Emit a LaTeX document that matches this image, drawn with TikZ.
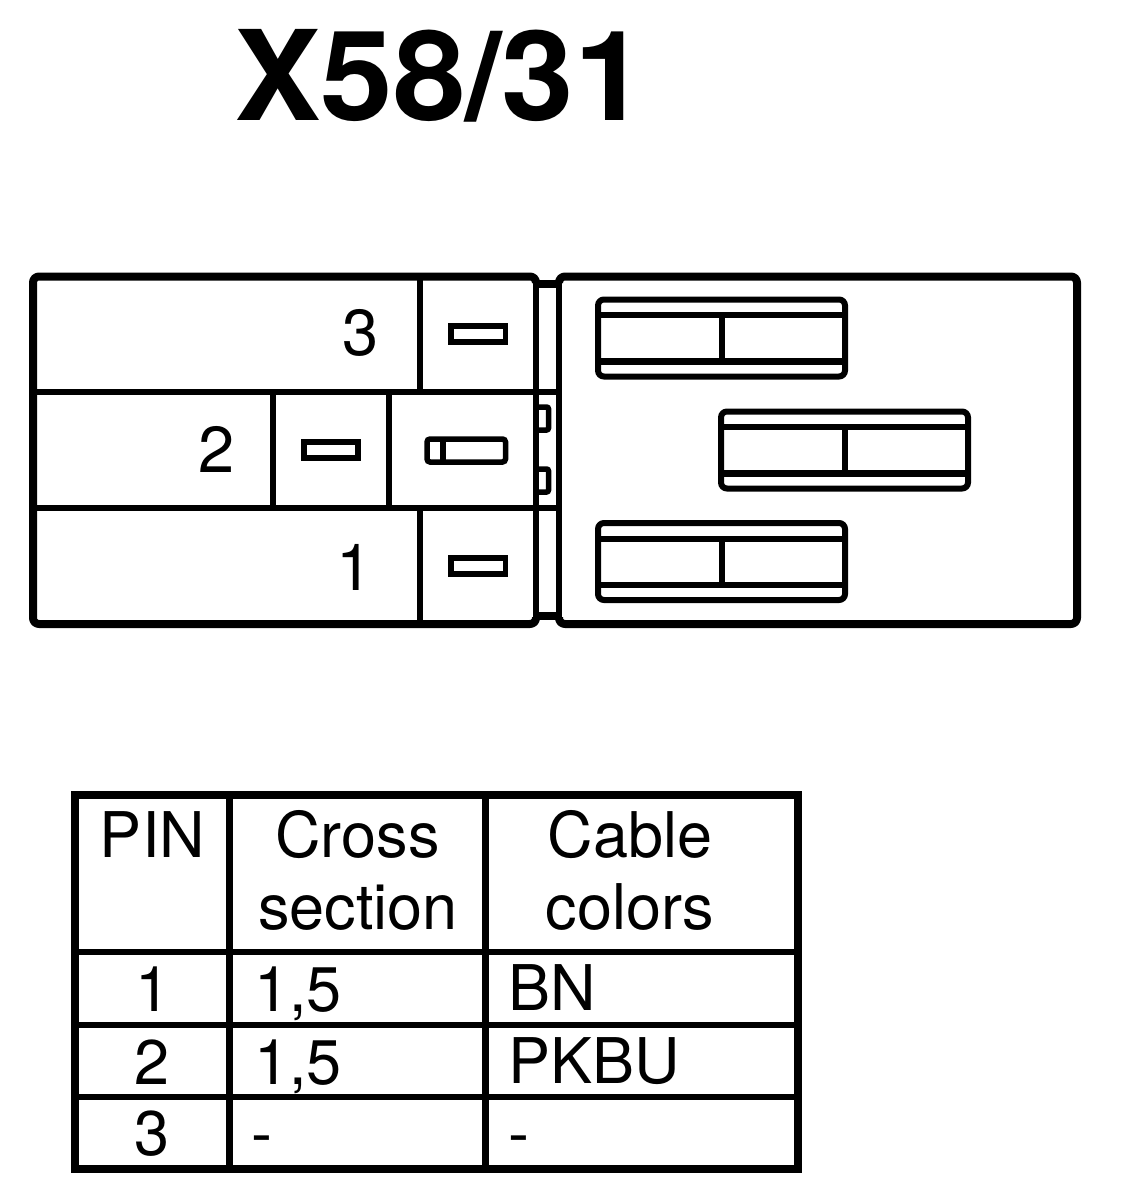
\documentclass[tikz,border=0pt]{standalone}
\usepackage{graphicx}
\usepackage{fontspec}
\setmainfont{TeX Gyre Heros}
\tikzset{
  heavy/.style={line width=8pt,line join=round},
  medium/.style={line width=6pt},
  tablerule/.style={line width=6pt},
  tablecol/.style={line width=7pt},
  pinslot/.style={line width=5.5pt,line join=miter},
  digit/.style={inner sep=0pt,outer sep=0pt,anchor=base,font=\fontsize{65}{65}\selectfont},
  celltext/.style={inner sep=0pt,outer sep=0pt,anchor=base,font=\fontsize{63}{63}\selectfont},
  cellleft/.style={celltext,anchor=base west},
  titletext/.style={inner sep=0pt,outer sep=0pt,anchor=base west,font=\fontsize{125}{125}\selectfont\bfseries},
  slotbox/.pic={
    \draw[medium,rounded corners=6pt] (0,0) rectangle (247,77);
    \draw[medium] (0,15.5) -- (247,15.5);
    \draw[line width=6.5pt] (0,62) -- (247,62);
    \draw[medium] (123.5,15.5) -- (123.5,62);
  }
}
\begin{document}
\begin{tikzpicture}[x=1pt,y=-1pt]
\useasboundingbox (0,0) rectangle (1120,1196);
\node[titletext] (title) at (234,121) {\scalebox{1.042}[1]{X58/31}};

% left housing
\draw[heavy,rounded corners=6pt] (536,283) -- (536,276.5) -- (33,276.5) -- (33,624) -- (536,624) -- (536,617);
\draw[medium] (536,280) -- (536,620);
\draw[medium] (33,392) -- (559,392);
\draw[medium] (33,508) -- (559,508);
\draw[medium] (419.5,276.5) -- (419.5,392);
\draw[medium] (419.5,508) -- (419.5,624);
\draw[medium] (273,392) -- (273,508);
\draw[medium] (389,392) -- (389,508);

% pin slots
\draw[pinslot] (451,326) rectangle (505.5,342);
\draw[pinslot] (451,558) rectangle (505.5,574);
\draw[pinslot] (304,442) rectangle (358,458);
\draw[pinslot,rounded corners=3pt] (427,439) rectangle (505.5,462);
\draw[pinslot] (443,439) -- (443,462);

% hinge between the two halves
\draw[heavy,line cap=butt] (536,284) -- (559,284);
\draw[heavy,line cap=butt] (536,616) -- (559,616);
\draw[pinslot,rounded corners=2pt] (536,407) -- (548.5,407) -- (548.5,430) -- (536,430);
\draw[pinslot,rounded corners=2pt] (536,469) -- (548.5,469) -- (548.5,492) -- (536,492);

% right housing
\draw[heavy,rounded corners=6pt] (559,283) -- (559,276.5) -- (1077,276.5) -- (1077,624) -- (559,624) -- (559,617);
\draw[medium] (559,280) -- (559,620);
\pic at (598,299.5) {slotbox};
\pic at (721,411.5) {slotbox};
\pic at (598,523) {slotbox};

% connector numbers
\node[digit] (n3) at (361,355) {3};
\node[digit] (n2) at (216.5,472) {2};
\node[digit] (n1) at (355,590) {1};

% table
\draw[heavy,line join=miter] (75,794.5) rectangle (798,1169);
\draw[tablecol] (229.5,794.5) -- (229.5,1169);
\draw[tablecol] (485.5,794.5) -- (485.5,1169);
\draw[tablerule] (75,952) -- (798,952);
\draw[tablerule] (75,1025) -- (798,1025);
\draw[tablerule] (75,1097) -- (798,1097);

\node[celltext] (hpin) at (152.5,857) {PIN};
\node[celltext] (hc1) at (357.5,857) {Cross};
\node[celltext] (hc2) at (358,929) {section};
\node[celltext] (hk1) at (630,857) {Cable};
\node[celltext] (hk2) at (630,929) {colors};
\node[celltext] (p1) at (153,1011) {1};
\node[celltext] (p2) at (152,1084) {2};
\node[celltext] (p3) at (152,1155) {3};
\node[cellleft] (c1) at (254,1011) {1,5};
\node[cellleft] (c2) at (254,1084) {1,5};
\node[cellleft] (c3) at (251,1155) {-};
\node[cellleft] (k1) at (508,1010) {BN};
\node[cellleft] (k2) at (508,1083) {PKBU};
\node[cellleft] (k3) at (508,1155) {-};
\end{tikzpicture}
\end{document}
